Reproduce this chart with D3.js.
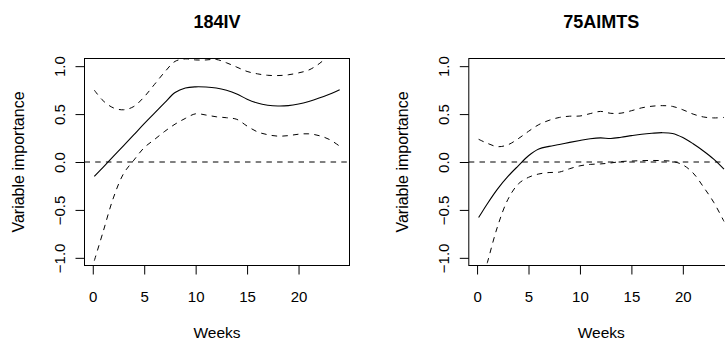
<!DOCTYPE html>
<html>
<head>
<meta charset="utf-8">
<script src="https://cdn.jsdelivr.net/npm/d3@7"></script>
<style>
  body { margin: 0; background: #fff; }
  text { font-family: "Liberation Sans", Arial, sans-serif; fill: #000; }
</style>
</head>
<body>
<div class="graph"></div>
<script>
// Data
var weeks = [0.15, 1, 2, 3, 4, 5, 6, 7, 8, 9, 10, 11, 12, 13, 14, 15, 16, 17, 18, 19, 20, 21, 22, 23, 24];

var titles = ["184IV", "75AIMTS"];

var iv184Mean  = [-0.15, -0.055, 0.058, 0.17, 0.285, 0.40, 0.51, 0.62, 0.725, 0.772, 0.784, 0.782, 0.772, 0.748, 0.71, 0.655, 0.615, 0.593, 0.584, 0.588, 0.605, 0.632, 0.667, 0.708, 0.755];
var iv184Upper = [0.75, 0.64, 0.565, 0.545, 0.58, 0.68, 0.81, 0.94, 1.05, 1.076, 1.065, 1.065, 1.07, 1.035, 0.99, 0.945, 0.92, 0.905, 0.902, 0.91, 0.93, 0.96, 1.025, 1.12, 1.24];
var iv184Lower = [-1.03, -0.73, -0.375, -0.12, 0.02, 0.15, 0.235, 0.32, 0.395, 0.455, 0.503, 0.49, 0.472, 0.462, 0.445, 0.375, 0.315, 0.285, 0.27, 0.275, 0.29, 0.294, 0.275, 0.235, 0.165];

var aimtsMean  = [-0.58, -0.435, -0.28, -0.15, -0.04, 0.065, 0.135, 0.163, 0.183, 0.205, 0.225, 0.243, 0.252, 0.245, 0.258, 0.275, 0.29, 0.30, 0.306, 0.298, 0.255, 0.19, 0.115, 0.03, -0.075];
var aimtsUpper = [0.237, 0.195, 0.16, 0.18, 0.243, 0.32, 0.39, 0.435, 0.465, 0.478, 0.48, 0.505, 0.528, 0.508, 0.51, 0.535, 0.565, 0.582, 0.588, 0.58, 0.545, 0.50, 0.47, 0.46, 0.465];
var aimtsLower = [-1.38, -1.05, -0.67, -0.39, -0.23, -0.16, -0.125, -0.11, -0.105, -0.07, -0.04, -0.025, -0.02, -0.01, 0.005, 0.01, 0.014, 0.016, 0.014, 0.006, -0.03, -0.115, -0.26, -0.42, -0.62];

var xTicks = [0, 5, 10, 15, 20];
var yTicks = [-1, -0.5, 0, 0.5, 1];
var yLimits = [-1, 1];

var panels = [
    {title: titles[0], mean: iv184Mean, upper: iv184Upper, lower: iv184Lower},
    {title: titles[1], mean: aimtsMean, upper: aimtsUpper, lower: aimtsLower}
];

// Layout
var width = 725,
    height = 340,
    panelWidth = 384.3,
    plotLeft = 84.5,
    plotRight = 349.5,
    plotTop = 58.5,
    plotBottom = 265.5,
    dash = "5.5,5.2";

// R-style 4% axis expansion
var xExt = d3.extent(weeks),
    xPad = (xExt[1] - xExt[0]) * 0.04,
    yPad = (yLimits[1] - yLimits[0]) * 0.04;

var x = d3.scaleLinear()
    .domain([xExt[0] - xPad, xExt[1] + xPad])
    .range([plotLeft, plotRight]);

var y = d3.scaleLinear()
    .domain([yLimits[0] - yPad, yLimits[1] + yPad])
    .range([plotBottom, plotTop]);

var line = d3.line()
    .x(function(d) { return x(d[0]); })
    .y(function(d) { return y(d[1]); })
    .curve(d3.curveCatmullRom.alpha(0.5));

var svg = d3.select('.graph').append("svg")
    .attr("width", width)
    .attr("height", height)
    .style("display", "block");

svg.append("rect")
    .attr("width", width)
    .attr("height", height)
    .attr("fill", "#fff");

function render(p, i) {
    var g = svg.append("g")
        .attr("transform", "translate(" + (i * panelWidth) + ",0)");

    var clipId = "clip" + i;
    g.append("clipPath")
        .attr("id", clipId)
        .append("rect")
        .attr("x", plotLeft)
        .attr("y", plotTop)
        .attr("width", plotRight - plotLeft)
        .attr("height", plotBottom - plotTop);

    var plot = g.append("g").attr("clip-path", "url(#" + clipId + ")");

    // zero reference line
    plot.append("line")
        .attr("x1", plotLeft)
        .attr("x2", plotRight)
        .attr("y1", y(0))
        .attr("y2", y(0))
        .attr("stroke", "#000")
        .attr("stroke-width", 1)
        .attr("stroke-dasharray", dash);

    var curves = [
        {values: p.upper, dashed: true},
        {values: p.lower, dashed: true},
        {values: p.mean, dashed: false}
    ];

    plot.selectAll(".curve")
        .data(curves)
        .enter().append("path")
        .attr("class", "curve")
        .attr("d", function(c) {
            return line(weeks.map(function(w, k) { return [w, c.values[k]]; }));
        })
        .attr("fill", "none")
        .attr("stroke", "#000")
        .attr("stroke-width", function(c) { return c.dashed ? 1 : 1.1; })
        .attr("stroke-dasharray", function(c) { return c.dashed ? dash : null; });

    // box
    g.append("rect")
        .attr("x", plotLeft)
        .attr("y", plotTop)
        .attr("width", plotRight - plotLeft)
        .attr("height", plotBottom - plotTop)
        .attr("fill", "none")
        .attr("stroke", "#000")
        .attr("stroke-width", 1);

    // x axis
    var xAxis = g.append("g")
        .attr("transform", "translate(0," + plotBottom + ")")
        .call(d3.axisBottom(x).tickValues(xTicks).tickSize(9).tickFormat(d3.format("d")));
    xAxis.select(".domain").remove();
    xAxis.selectAll(".tick line").attr("stroke", "#000");
    xAxis.selectAll("text")
        .attr("y", 36)
        .attr("dy", null)
        .style("font-size", "15px")
        .style("font-family", "'Liberation Sans', Arial, sans-serif")
        .attr("fill", "#000");

    // y axis
    var yAxis = g.append("g")
        .attr("transform", "translate(" + plotLeft + ",0)")
        .call(d3.axisLeft(y).tickValues(yTicks).tickSize(9).tickFormat(d3.format(".1f")));
    yAxis.select(".domain").remove();
    yAxis.selectAll(".tick line").attr("stroke", "#000");
    yAxis.selectAll("text")
        .attr("x", 0)
        .attr("dy", null)
        .attr("transform", "translate(-19.5,0) rotate(-90)")
        .attr("text-anchor", "middle")
        .style("font-size", "15px")
        .style("font-family", "'Liberation Sans', Arial, sans-serif")
        .attr("fill", "#000");

    var cx = (plotLeft + plotRight) / 2,
        cy = (plotTop + plotBottom) / 2;

    g.append("text")
        .attr("x", cx)
        .attr("y", 27.5)
        .attr("text-anchor", "middle")
        .style("font-size", "18px")
        .style("font-weight", "bold")
        .text(p.title);

    g.append("text")
        .attr("x", cx)
        .attr("y", 338)
        .attr("text-anchor", "middle")
        .style("font-size", "15.5px")
        .text("Weeks");

    g.append("text")
        .attr("transform", "translate(24," + cy + ") rotate(-90)")
        .attr("text-anchor", "middle")
        .style("font-size", "16px")
        .text("Variable importance");
}

panels.forEach(render);
</script>
</body>
</html>
